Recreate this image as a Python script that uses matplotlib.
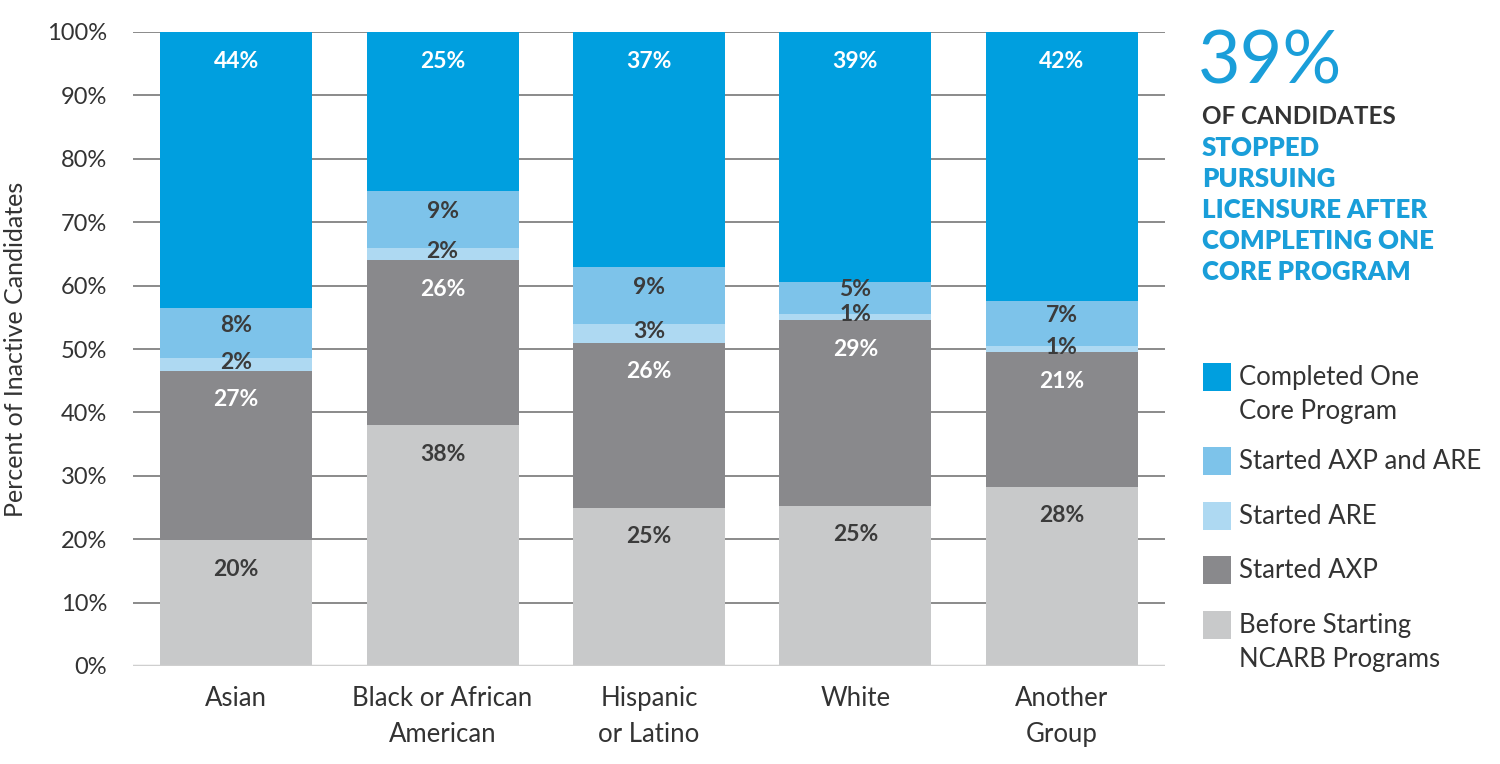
import matplotlib
matplotlib.use("Agg")
import matplotlib.pyplot as plt
from matplotlib.patches import Rectangle
import numpy as np

plt.rcParams['font.family'] = ['Lato', 'DejaVu Sans']

# ---------------- data ----------------
categories = ["Asian", "Black or African\nAmerican", "Hispanic\nor Latino", "White", "Another\nGroup"]
series_names = ["Before Starting\nNCARB Programs", "Started AXP", "Started ARE",
                "Started AXP and ARE", "Completed One\nCore Program"]
before_starting = [20, 38, 25, 25, 28]
started_axp = [27, 26, 26, 29, 21]
started_are = [2, 2, 3, 1, 1]
started_axp_are = [8, 9, 9, 5, 7]
completed_one = [44, 25, 37, 39, 42]
yticks = [0, 10, 20, 30, 40, 50, 60, 70, 80, 90, 100]
ytick_labels = [f"{v}%" for v in yticks]
headline = "39%"
headline_dark = "OF CANDIDATES"
headline_blue = ["STOPPED", "PURSUING", "LICENSURE AFTER", "COMPLETING ONE", "CORE PROGRAM"]

colors = ["#c8c9ca", "#89898c", "#aed9f2", "#7dc3ea", "#009fdf"]
label_colors = ["#3b3b3b", "#ffffff", "#3b3b3b", "#3b3b3b", "#ffffff"]
DARK = "#333333"
BLUE = "#1a9ed9"

# ---------------- figure ----------------
W, H = 1500, 764
fig = plt.figure(figsize=(W / 100, H / 100), dpi=100)
ax = fig.add_axes([133 / W, 1 - 666 / H, (1165 - 133) / W, (666 - 32) / H])

series = np.array([before_starting, started_axp, started_are, started_axp_are, completed_one], dtype=float)
totals = series.sum(axis=0)
shares = series / totals * 100.0

x = np.arange(len(categories))
bottom = np.zeros(len(categories))
bar_w = 0.736
px2pt = 0.72
for i in range(len(series)):
    ax.bar(x, shares[i], bar_w, bottom=bottom, color=colors[i], zorder=3, linewidth=0)
    for j in range(len(categories)):
        val = series[i, j]
        top = bottom[j] + shares[i, j]
        center = bottom[j] + shares[i, j] / 2
        if val >= 10:
            ypos, off = top, -29
        elif val >= 4:
            ypos, off = center, 8
        else:
            ypos, off = center, 2
        ax.annotate(f"{int(val)}%", (x[j], ypos), xytext=(0, off * px2pt),
                    textcoords="offset points", ha="center", va="center",
                    fontsize=16.5, fontweight="bold", color=label_colors[i], zorder=5)
    bottom += shares[i]

ax.set_xlim(-0.5, len(categories) - 0.5)
ax.set_ylim(0, 100)
ax.set_yticks(yticks)
ax.set_yticklabels(ytick_labels)
ax.set_xticks(x)
ax.set_xticklabels(categories, linespacing=1.55)
ax.tick_params(axis="both", length=0, colors=DARK)
ax.tick_params(axis="y", labelsize=17, pad=26 * px2pt)
ax.tick_params(axis="x", labelsize=18.5, pad=20 * px2pt)
for s in ax.spines.values():
    s.set_visible(False)
ax.yaxis.grid(True, color="#8a8a8a", linewidth=1.4, zorder=0)
ax.set_axisbelow(True)
ax.axhline(0, color="#cfcfcf", linewidth=2.5, zorder=4)
ax.set_ylabel("Percent of Inactive Candidates", fontsize=18, color=DARK)
ax.yaxis.set_label_coords(-(133 - 27) / (1165 - 133), 0.5)

# ---------------- headline ----------------
fig.text(1198 / W, 1 - 63 / H, headline, fontsize=53, color=BLUE, ha="left", va="center",
         fontweight="normal")
fig.text(1202 / W, 1 - 117 / H, headline_dark, fontsize=17.5, color=DARK, ha="left",
         va="center", fontweight="bold")
for k, line in enumerate(headline_blue):
    fig.text(1202 / W, 1 - (148 + 31 * k) / H, line, fontsize=18.5, color=BLUE, ha="left",
             va="center", fontweight="heavy")

# ---------------- legend ----------------
legend_tops = [363, 447, 502, 556, 611]
legend_order = [4, 3, 2, 1, 0]
for top, idx in zip(legend_tops, legend_order):
    fig.add_artist(Rectangle((1203 / W, 1 - (top + 28) / H), 28 / W, 28 / H,
                             transform=fig.transFigure, color=colors[idx], linewidth=0))
    fig.text(1239 / W, 1 - (top + 2) / H, series_names[idx], fontsize=18.5, color=DARK,
             ha="left", va="top", linespacing=1.45)

fig.savefig("out.png", dpi=100)
